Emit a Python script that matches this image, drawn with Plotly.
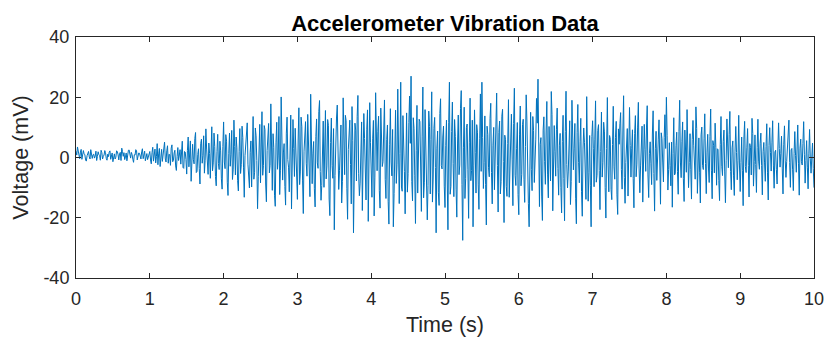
import numpy as np
import plotly.graph_objects as go

# Voltage readings (mV).
# Series A: samples at t = 0.00, 0.02, 0.04, ... 10.00 s
v_00 = [2.1, 3.5, 0.4, 1.8, -0.6, 2.3, 0.9, -1.2, 1.5, 0.2, 2.6, -0.3, 1.1, 0.5, -1.0, 1.9, 0.7, 2.4, -0.5, 0.8, 1.6, -0.9, 0.3, 2.2, 0.6]
v_05 = [-1.4, 1.2, 0.1, 2.0, -0.8, 1.7, 3.1, 0.4, -0.7, 1.5, 0.9, 2.5, -0.2, 1.0, -1.6, 0.8, 2.3, 0.2, 1.4, -0.5, 2.9, 0.6, -1.1, 1.3, 0.3]
v_10 = [2.0, -2.1, 3.4, 0.5, -1.8, 4.6, 1.2, -3.0, 2.7, 0.8, 5.1, -1.5, 3.9, 1.1, -2.6, 4.2, -0.9, 2.4, -4.3, 3.3, 0.6, -2.2, 5.4, -3.6, 1.8]
v_15 = [-5.5, 6.8, 1.2, -7.9, 4.4, -2.1, 8.3, -4.6, 2.9, -8.8, 6.1, 0.7, -5.2, 9.5, -3.3, 4.8, -6.9, 10.2, -1.8, 3.6, -9.4, 7.7, -4.0, 2.2, -10.5]
v_20 = [11.8, -3.7, 5.4, -12.6, 8.1, 0.9, -7.3, 12.4, -5.8, 3.2, -11.1, 9.6, -2.4, 6.7, -13.2, 4.3, 11.5, -6.6, 1.7, -9.8, 13.6, -4.9, 7.2, -17.0, 5.1]
v_25 = [-8.4, 15.2, -2.6, 9.3, -14.7, 6.0, -5.1, 17.8, -10.9, 3.4, -16.2, 11.7, 0.8, -12.3, 20.1, -7.5, 4.6, -15.8, 13.4, -3.2, 8.9, -17.1, 12.6, -6.3, 2.7]
v_30 = [-13.9, 16.5, -4.8, 10.2, -18.6, 7.1, -1.9, 14.3, -11.5, 21.0, -8.7, 5.3, -16.4, 12.8, -3.6, 18.9, -14.2, 6.4, -9.9, 15.6, -2.8, 10.7, -19.3, 13.1, -6.9]
v_35 = [-24.0, 8.6, 17.4, -10.6, 3.9, -15.1, 19.8, -5.7, 12.2, -20.5, 7.8, -2.3, 16.9, -25.0, 11.4, -7.8, 20.6, -12.7, 4.7, -17.6, 14.6, -3.1, 9.4, -21.2, 18.2]
v_40 = [-9.1, 6.2, -19.4, 21.5, -4.4, 13.7, -16.8, 8.3, -1.4, 19.1, -13.6, 10.8, -22.1, 16.2, -6.1, -23.0, 12.9, -8.6, 22.7, -15.3, 25.0, -11.2, 7.4, -18.7, 14.8]
v_45 = [-5.3, 20.4, 27.0, -14.4, 9.7, -21.9, 17.3, -2.9, 11.9, -17.9, 23.4, -8.2, 4.1, -20.7, 15.4, -12.1, 21.8, -6.8, 13.3, -25.0, 8.8, -15.9, 19.5, -3.8, 10.4]
v_50 = [-16.6, 12.4, -24.0, 25.0, -9.6, 18.4, -13.0, 6.9, -19.8, 14.1, -2.5, 22.2, -27.5, 16.7, -7.0, 11.1, -20.2, 19.7, -4.3, -23.0, 15.8, -11.8, 8.2, -17.2, 21.1]
v_55 = [25.0, -10.3, 13.8, -22.4, 7.6, -6.4, 18.0, -15.4, 10.0, -2.1, 21.4, -18.1, 12.1, -8.0, 16.0, -21.6, 5.9, -12.9, 19.2, -4.7, 14.4, -16.0, 23.0, -9.3, 11.6]
v_60 = [-19.0, 17.1, -5.6, 12.7, -14.9, 20.8, -7.7, -23.0, 15.0, -11.0, 9.0, -3.5, 19.6, 26.0, -16.3, 6.6, -20.9, 13.5, -8.9, 18.6, -13.4, 4.2, 21.9, -17.7, 10.6]
v_65 = [-6.2, 16.4, -12.5, 8.0, -18.4, 14.0, -21.0, 22.0, -10.1, 5.7, -15.6, 19.0, -4.1, 11.3, -22.0, 17.6, -8.4, 13.0, -19.5, 9.8, -2.7, 20.2, -14.5, 7.3, -23.0]
v_70 = [12.2, -9.7, 18.8, -5.9, 10.9, -17.3, 15.1, -1.6, 8.5, -20.1, 19.9, -11.4, 6.0, -14.0, 17.0, -7.2, 12.0, -18.9, 4.4, 14.9, -10.5, 20.5, -15.2, 3.1, -12.8]
v_75 = [16.6, -6.5, 9.2, -16.7, 13.9, -2.2, 18.3, -11.7, 7.0, -14.8, 11.0, -4.6, 17.2, -13.3, 5.2, -9.0, 15.5, -17.8, 8.7, -3.0, 12.5, -15.5, 6.3, -8.1, 14.2]
v_80 = [20.0, -10.8, 4.9, -9.4, -16.5, 13.2, -5.4, 8.4, -12.2, 19.0, -6.7, 11.8, -14.6, 3.7, 15.9, -10.0, 7.9, -13.8, 12.3, -2.0, 16.8, -11.9, 6.5, -15.1, 10.1]
v_85 = [-4.0, 14.5, -12.0, 7.7, -8.3, 16.1, -13.7, 4.0, 11.4, -9.2, 2.6, -14.3, 13.6, -6.0, 9.1, -15.0, 12.8, -3.4, 15.3, -10.7, 5.5, -12.6, 10.3, -7.4, 14.0]
v_90 = [-11.3, 6.8, -16.0, 12.0, -5.0, 9.6, -13.1, 3.3, 13.0, -9.5, 7.5, -11.6, 12.7, -3.9, 8.1, -12.4, 5.0, -7.9, 11.2, -14.1, 9.9, -4.5, 12.2, -10.2, 2.4]
v_95 = [-8.8, 11.5, -3.2, 7.1, -12.1, 10.5, -6.6, 4.5, 12.4, -9.9, 3.0, -11.0, 8.6, -4.9, 10.8, -12.5, 6.1, -2.5, 11.9, -8.5, 5.6, -10.4, 9.3, -5.2, 4.8]
v_end = [-10.0]

# Series B: in-between samples at t = 0.01, 0.03, 0.05, ... 9.99 s
b_00 = [0.8, 1.9, -0.4, 2.7, 0.5, 1.2, -0.8, 0.6, 2.0, -0.5, 1.4, 0.9, -0.2, 2.1, 0.3, 1.0, -0.9, 1.6, 0.4, 2.3, -0.3, 1.1, 1.8, -0.6, 1.5]
b_05 = [0.7, -0.5, 2.2, 0.9, 1.3, -1.0, 2.0, 1.6, 0.2, -1.1, 2.4, 0.5, 1.7, -0.6, 0.9, 2.6, -0.8, 1.5, 0.0, 1.9, -0.4, 2.1, 0.8, -0.7, 1.2]
b_10 = [-0.8, 1.6, -1.2, 2.8, 0.3, -2.4, 3.0, 0.1, -1.3, 3.6, -0.5, 2.2, -1.9, 0.9, 3.1, -1.4, 1.5, -2.8, 0.4, -1.0, 2.6, 1.3, -3.3, 2.0, -0.7]
b_15 = [2.4, -3.1, 5.5, -2.2, -0.6, 6.3, -5.0, 1.0, -3.7, 4.6, -1.9, 7.2, -0.9, 2.8, -5.6, 1.3, 6.5, -4.4, 8.1, -6.3, 1.9, -2.0, 5.4, -7.1, 3.7]
b_20 = [-1.5, 7.6, -8.2, 1.4, -2.9, 9.0, -4.1, 3.6, 6.8, -7.7, 2.0, -5.3, 10.4, -3.2, 0.6, 8.7, -2.2, -10.1, 5.5, 3.9, -7.2, 9.8, -1.0, -6.4, 11.0]
b_25 = [4.2, -5.9, 10.6, -8.8, 2.3, 11.3, -2.6, -6.7, 7.9, -12.5, 5.1, -3.9, 13.6, -4.2, 6.8, 1.5, -9.6, 8.1, -0.7, -11.4, 14.1, -5.5, 3.0, 9.7, -10.8]
b_30 = [5.8, -9.0, 13.4, -7.5, 2.1, 11.9, -6.2, 4.5, -13.0, 8.3, 1.2, -10.4, 6.9, -1.8, 15.2, -4.6, -9.3, 12.1, 3.3, -7.1, 12.6, -13.8, 5.0, -2.7, 9.6]
b_35 = [-6.0, 13.1, 1.9, -4.4, 10.8, -7.9, 3.8, 14.0, -10.2, 2.6, 12.4, -15.4, 5.7, -2.0, 9.1, 13.7, -5.4, -8.5, 11.8, -1.1, 6.3, -14.1, 15.8, -3.8, 4.9]
b_40 = [-13.2, 12.3, -6.5, 2.8, 8.7, -11.0, 16.4, -3.0, 10.6, -7.3, 5.9, -14.5, 4.2, -1.5, 9.3, -12.0, 15.7, -2.2, 6.5, 1.4, -9.8, 13.9, -4.7, 3.6, -11.5]
b_45 = [11.6, 4.7, -8.0, 13.2, -6.1, 2.4, -11.8, 12.7, -5.6, 7.1, -13.4, 15.9, -1.9, -9.2, 10.3, 6.0, -14.8, 9.7, -3.3, 3.1, -11.7, 14.6, -2.7, 6.8, -9.5]
b_50 = [3.9, -6.8, 11.7, -12.2, 8.6, -2.0, 12.6, -10.5, 4.8, -5.7, 16.3, -8.9, 3.2, -13.6, 9.9, -4.1, 5.1, -7.7, 12.4, -2.8, 1.6, 10.9, -9.1, 6.2, -4.6]
b_55 = [6.6, -1.7, -8.9, 10.4, -3.4, 12.9, -5.0, 4.1, -10.7, 15.1, -2.6, 8.3, -12.1, 13.7, -1.3, 7.4, -9.6, 4.6, -13.2, 10.2, -0.8, 11.3, -5.9, 2.9, -12.3]
b_60 = [7.5, -9.4, 10.9, -7.2, 3.6, 12.1, -15.2, 2.5, -4.0, 13.6, -8.3, 6.1, 11.4, -6.7, 4.4, -12.8, 9.1, -1.4, 8.8, -5.5, 10.3, -7.8, 14.2, -3.9, 1.9]
b_65 = [9.4, -3.6, 4.1, -9.9, 5.3, -6.9, 8.6, -2.3, -4.8, 12.2, -8.0, 10.4, 3.1, -13.5, 8.2, -1.6, 5.4, -11.2, 2.8, 4.9, -13.9, 6.2, -5.1, -9.4, 7.0]
b_70 = [2.9, 6.1, -8.2, 9.0, -4.3, 2.0, -6.5, 11.7, -9.9, 3.0, -2.8, 7.3, -10.6, 4.3, -3.1, 6.7, -12.4, 9.5, 11.2, -4.0, 8.8, -6.6, -1.7, 9.6, 2.3]
b_75 = [4.0, 3.1, -7.0, 8.0, -6.4, 10.1, -3.5, -2.8, 10.4, -6.1, 2.6, 9.8, -5.8, 1.4, -2.1, 7.8, -5.3, 2.9, -7.6, 6.1, -4.2, 8.2, -1.5, 6.7, 3.0]
b_80 = [7.2, -3.9, -2.6, 5.1, 1.3, -5.8, 3.9, -4.7, 8.6, -1.5, 5.2, -6.9, 9.1, -4.9, 2.8, -1.6, -3.9, 6.0, 4.1, -7.2, 9.6, -4.5, -5.1, 7.5, -2.7]
b_85 = [6.4, -2.0, 1.8, -3.5, 6.9, -4.2, 5.6, -5.1, 3.4, 2.9, -7.6, 4.4, -2.9, 5.3, -4.8, -1.1, 4.8, 7.7, -4.6, 3.2, -6.1, 2.1, 1.7, -0.9, -2.5]
b_90 = [-1.7, -4.4, 6.1, -3.0, 3.2, -2.6, 4.6, -5.8, 8.0, -1.4, -2.3, 3.4, -1.2, 4.7, -2.6, 1.9, -1.8, 3.7, -5.1, 4.0, 1.6, 5.1, -2.8, 1.8, -3.9]
b_95 = [2.5, 3.0, 1.4, -3.8, 4.2, -0.9, -1.3, 6.8, -1.7, 2.5, -4.1, 1.3, 0.6, 2.8, -2.1, 3.1, -1.4, 4.7, 0.9, -1.0, -3.2, 1.2, -0.4, 0.0, -3.6]

series_a = (v_00 + v_05 + v_10 + v_15 + v_20 + v_25 + v_30 + v_35 + v_40 + v_45
            + v_50 + v_55 + v_60 + v_65 + v_70 + v_75 + v_80 + v_85 + v_90 + v_95 + v_end)
series_b = (b_00 + b_05 + b_10 + b_15 + b_20 + b_25 + b_30 + b_35 + b_40 + b_45
            + b_50 + b_55 + b_60 + b_65 + b_70 + b_75 + b_80 + b_85 + b_90 + b_95)

t_a = 0.02 * np.arange(len(series_a))
t_b = 0.01 + 0.02 * np.arange(len(series_b))
order = np.argsort(np.concatenate([t_a, t_b]), kind="stable")
time = np.concatenate([t_a, t_b])[order]
voltage = np.concatenate([series_a, series_b])[order]

x_ticks = [0, 1, 2, 3, 4, 5, 6, 7, 8, 9, 10]
y_ticks = [-40, -20, 0, 20, 40]

title_text = "Accelerometer Vibration Data"
x_label = "Time (s)"
y_label = "Voltage (mV)"

axis_col = "#262626"
font_fam = "Arial, Liberation Sans, Helvetica, sans-serif"

fig = go.Figure()
fig.add_trace(go.Scatter(x=time, y=voltage, mode="lines",
                         line=dict(color="#0072BD", width=1), showlegend=False))

fig.update_layout(
    width=825, height=340,
    margin=dict(l=76, r=11, t=37, b=62, autoexpand=False),
    paper_bgcolor="white", plot_bgcolor="white",
    font=dict(family=font_fam, color=axis_col, size=18),
    title=dict(text="<b>" + title_text + "</b>", x=0.5, xref="paper", xanchor="center",
               y=1, yref="paper", yanchor="bottom", pad=dict(b=6),
               font=dict(size=22, color="black", family=font_fam)),
)
common = dict(showline=True, linecolor=axis_col, linewidth=1, mirror="ticks",
              ticks="inside", ticklen=5, tickcolor=axis_col, showgrid=False,
              zeroline=False, automargin=False, tickfont=dict(size=18, color=axis_col))
fig.update_xaxes(range=[0, 10], tickvals=x_ticks, ticktext=[str(t) for t in x_ticks],
                 ticklabelstandoff=4,
                 title=dict(text=x_label, font=dict(size=21.5, color=axis_col), standoff=9),
                 **common)
fig.update_yaxes(range=[-40, 40], tickvals=y_ticks, ticktext=[str(t) for t in y_ticks],
                 ticklabelstandoff=2,
                 title=dict(text=y_label, font=dict(size=21.5, color=axis_col), standoff=8),
                 **common)

fig.write_html("out.html")
